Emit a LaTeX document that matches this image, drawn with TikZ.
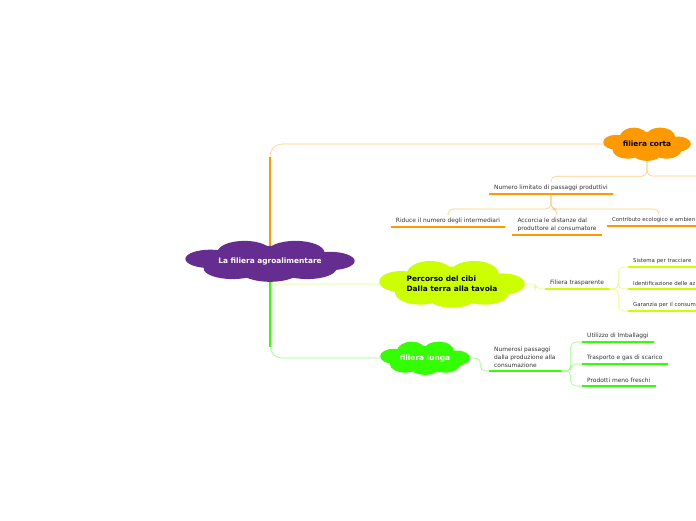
\documentclass[tikz,border=0pt]{standalone}
\usepackage{fontspec}
\setsansfont{DejaVu Sans}
\usetikzlibrary{backgrounds,positioning}
\definecolor{mapPurple}{HTML}{662D91}
\definecolor{mapOrange}{HTML}{FF9900}
\definecolor{mapLime}{HTML}{CCFF00}
\definecolor{mapGreen}{HTML}{33FF00}
\definecolor{mapText}{HTML}{333333}
\tikzset{
  map-cloud/.style n args={3}{rectangle, inner sep=0pt, minimum width=#2, minimum height=#3,
    font=\sffamily\bfseries\fontsize{7.4}{10}\selectfont,
    path picture={
      \fill[#1] (path picture bounding box.center) ellipse [x radius=0.36*#2, y radius=0.36*#3];
      \fill[#1] ([xshift=-0.15*#2, yshift=0.2*#3]path picture bounding box.center) ellipse [x radius=0.16*#2, y radius=0.28*#3];
      \fill[#1] ([xshift=0.15*#2, yshift=0.2*#3]path picture bounding box.center) ellipse [x radius=0.17*#2, y radius=0.28*#3];
      \fill[#1] ([xshift=-0.35*#2, yshift=0.05*#3]path picture bounding box.center) ellipse [x radius=0.148*#2, y radius=0.22*#3];
      \fill[#1] ([xshift=0.35*#2, yshift=0*#3]path picture bounding box.center) ellipse [x radius=0.148*#2, y radius=0.22*#3];
      \fill[#1] ([xshift=-0.22*#2, yshift=-0.18*#3]path picture bounding box.center) ellipse [x radius=0.17*#2, y radius=0.25*#3];
      \fill[#1] ([xshift=0*#2, yshift=-0.25*#3]path picture bounding box.center) ellipse [x radius=0.17*#2, y radius=0.245*#3];
      \fill[#1] ([xshift=0.22*#2, yshift=-0.18*#3]path picture bounding box.center) ellipse [x radius=0.17*#2, y radius=0.25*#3];
    }},
  map-leaf/.style={inner xsep=5pt, inner ysep=3pt, font=\sffamily\fontsize{5.9}{8}\selectfont,
    text=mapText, align=left},
  map-edge/.style={map-leaf, font=\sffamily\fontsize{5.4}{8}\selectfont},
  map-link/.style={line width=0.6pt, rounded corners=5pt},
  map-trunk/.style={line width=2pt},
  map-rule/.style={line width=2.4pt}
}

\begin{document}
\begin{tikzpicture}[x=1pt, y=-1pt]
  \useasboundingbox (0,0) rectangle (696,520);
  \clip (0,0) rectangle (696,520);

  % Central topic
  \node[map-cloud={mapPurple}{170pt}{42pt}, text=white] (agro) at (270,261) {La filiera agroalimentare};

  % Main branches
  \node[map-cloud={mapOrange}{88pt}{34pt}] (corta) at (647,144) {filiera corta};
  \node[map-cloud={mapLime}{146pt}{48pt}, align=left] (percorso) at (452,284) {Percorso del cibi\\Dalla terra alla tavola};
  \node[map-cloud={mapGreen}{90pt}{34pt}, text=white] (lunga) at (425,358) {filiera lunga};

  % filiera corta
  \node[map-leaf, anchor=south] (numero) at (551,194) {Numero limitato di passaggi produttivi};
  \node[map-leaf, anchor=south] (riduce) at (448,227) {Riduce il numero degli intermediari};
  \node[map-leaf, anchor=south] (accorcia) at (557,235) {Accorcia le distanze dal\\produttore al consumatore};
  \node[map-edge, anchor=south, text width=94pt] (contributo) at (659,226) {Contributo ecologico e ambien};
  \coordinate (corta-next) at (720,176);

  % Percorso del cibi
  \node[map-leaf, anchor=south west] (trasparente) at (545,289) {Filiera trasparente};
  \node[map-edge, anchor=south west, text width=80pt] (sistema) at (628,267) {Sistema per tracciare};
  \node[map-edge, anchor=south west, text width=80pt] (identifica) at (628,289) {Identificazione delle az};
  \node[map-edge, anchor=south west, text width=80pt] (garanzia) at (628,311) {Garanzia per il consum};

  % filiera lunga
  \node[map-leaf, anchor=south west] (numerosi) at (489,371) {Numerosi passaggi\\dalla produzione alla\\consumazione};
  \node[map-leaf, anchor=south west] (imballaggi) at (582,342) {Utilizzo di Imballaggi};
  \node[map-leaf, anchor=south west] (trasporto) at (582,364) {Trasporto e gas di scarico};
  \node[map-leaf, anchor=south west] (freschi) at (582,386) {Prodotti meno freschi};

  % Underlines
  \draw[map-rule, mapOrange] (numero.south west) -- (numero.south east);
  \draw[map-rule, mapOrange] (riduce.south west) -- (riduce.south east);
  \draw[map-rule, mapOrange] (accorcia.south west) -- (accorcia.south east);
  \draw[map-rule, mapOrange] (contributo.south west) -- (contributo.south east);
  \draw[map-rule, mapLime] (trasparente.south west) -- (trasparente.south east);
  \draw[map-rule, mapLime] (sistema.south west) -- (sistema.south east);
  \draw[map-rule, mapLime] (identifica.south west) -- (identifica.south east);
  \draw[map-rule, mapLime] (garanzia.south west) -- (garanzia.south east);
  \draw[map-rule, mapGreen] (numerosi.south west) -- (numerosi.south east);
  \draw[map-rule, mapGreen] (imballaggi.south west) -- (imballaggi.south east);
  \draw[map-rule, mapGreen] (trasporto.south west) -- (trasporto.south east);
  \draw[map-rule, mapGreen] (freschi.south west) -- (freschi.south east);

  % Connectors
  \begin{scope}[on background layer]
    \draw[map-link, rounded corners=12pt, mapOrange!50] (agro.center) |- (corta.west);
    \draw[map-trunk, mapOrange] (agro.center) -- ++(0,-104);
    \draw[map-link, rounded corners=6pt, mapLime!50] (agro.center) |- (percorso.west);
    \draw[map-link, rounded corners=12pt, mapGreen!50] (agro.center) |- (lunga.west);
    \draw[map-trunk, mapGreen] (agro.center) -- ++(0,86);

    \draw[map-link, mapOrange!50] (corta.south) -- ++(0,15) -| (numero.north);
    \draw[map-link, mapOrange!50] (corta.south) |- (corta-next);
    \draw[map-link, mapOrange!50] (numero.south) -- ++(0,15) -| (riduce.north);
    \draw[map-link, mapOrange!50] (numero.south) -- ++(0,15) -| (accorcia.north);
    \draw[map-link, mapOrange!50] (numero.south) -- ++(0,15) -| (contributo.north);

    \draw[map-link, mapLime!50] (percorso.east) -- ++(10,0) |- (trasparente.south west);
    \draw[map-link, mapLime!50] (trasparente.south east) -- ++(9,0) |- (sistema.south west);
    \draw[map-link, mapLime!50] (trasparente.south east) -- ++(9,0) |- (identifica.south west);
    \draw[map-link, mapLime!50] (trasparente.south east) -- ++(9,0) |- (garanzia.south west);

    \draw[map-link, mapGreen!50] (lunga.east) -- ++(10,0) |- (numerosi.south west);
    \draw[map-link, mapGreen!50] (numerosi.south east) -- ++(10,0) |- (imballaggi.south west);
    \draw[map-link, mapGreen!50] (numerosi.south east) -- ++(10,0) |- (trasporto.south west);
    \draw[map-link, mapGreen!50] (numerosi.south east) -- ++(10,0) |- (freschi.south west);
  \end{scope}
\end{tikzpicture}
\end{document}
